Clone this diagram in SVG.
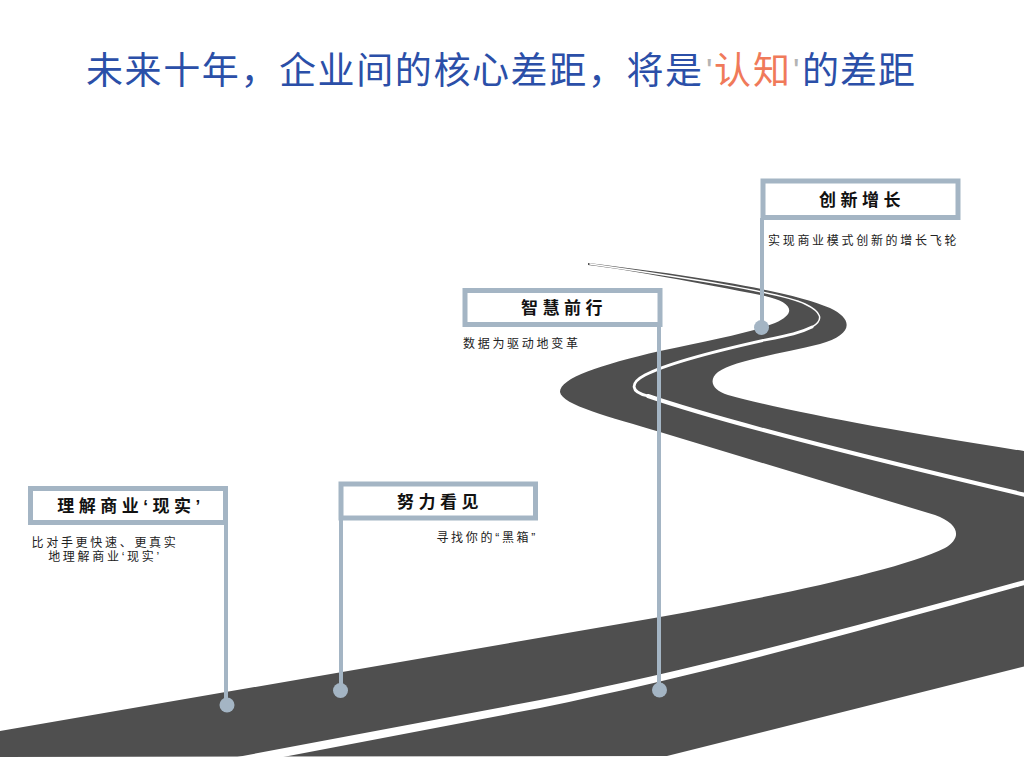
<svg xmlns="http://www.w3.org/2000/svg" width="1024" height="764" viewBox="0 0 1024 764">
<style>
.t{font-family:"Noto Sans CJK SC","Noto Sans CJK JP",sans-serif;font-size:37px;fill:#2b4fa8}
.q{font-family:"Liberation Sans","Noto Sans CJK SC",sans-serif;font-size:34px;fill:#b4b4b4}
.hl{fill:#f07a5a}
.box{fill:#ffffff;stroke:#a4b5c4;stroke-width:5}
.stem{stroke:#a4b5c4;stroke-width:4;fill:none}
.dot{fill:#a4b5c4}
.h{font-family:"Liberation Sans","Noto Sans CJK SC",sans-serif;font-size:17px;font-weight:bold;fill:#111;letter-spacing:4.5px;text-anchor:middle}
.s{font-family:"Liberation Sans","Noto Sans CJK SC",sans-serif;font-size:12px;fill:#222;letter-spacing:2.7px}
.road{fill:#4f4f4f}
.wl{fill:none;stroke:#ffffff;stroke-linecap:round;stroke-linejoin:round}
</style>
<rect width="1024" height="764" fill="#ffffff"/>

<g id="title">
<text class="t" x="86" y="84" textLength="616" lengthAdjust="spacing">未来十年，企业间的核心差距，将是</text>
<text class="q" x="706" y="82">'</text>
<text class="t hl" x="714" y="84" textLength="76" lengthAdjust="spacing">认知</text>
<text class="q" x="793" y="82">'</text>
<text class="t" x="802" y="84" textLength="113" lengthAdjust="spacing">的差距</text>
</g>

<g id="road">
<path class="road" d="M 588 263 C 680 274, 790 290, 830 308 C 855 320, 852 335, 820 344 C 780 354, 735 360, 718 372 C 708 380, 712 390, 728 395 C 790 412, 900 432, 1030 452 L 1030 665 L 667 756 L 0 757 L 0 731 L 660 617 C 780 595, 900 570, 945 548 C 962 538, 960 524, 935 515 L 660 432 C 610 417, 562 405, 560 392 C 560 378, 600 365, 660 351 C 710 340, 750 333, 775 323 C 798 313, 792 302, 765 296 C 700 283, 630 270, 588 265 Z"/>
<path class="wl" stroke-width="1.5" d="M 590 264 C 680 277, 780 292, 805 304 C 822 312, 824 320, 812 327"/>
<path class="wl" stroke-width="2.8" d="M 812 327 C 800 333, 790 335, 765 340 C 720 350, 670 362, 645 375 C 630 383, 630 392, 648 396"/>
<path class="wl" stroke-width="4" d="M 648 396 C 700 414, 800 442, 1030 496"/>
<path fill="#ffffff" d="M 1030 578.5 C 860 625, 700 668.5, 540 700 L 232 758 L 278 758 L 540 708 C 700 675.5, 860 631, 1030 583.5 Z"/>
</g>

<g id="connectors">
<line class="stem" x1="226" y1="522" x2="226" y2="705"/>
<circle class="dot" cx="227" cy="705" r="7.5"/>
<line class="stem" x1="341" y1="518" x2="341" y2="690"/>
<circle class="dot" cx="340.5" cy="690.5" r="7.5"/>
<line class="stem" x1="659" y1="324" x2="659" y2="690"/>
<circle class="dot" cx="659.5" cy="690" r="7.5"/>
<line class="stem" x1="762" y1="218" x2="762" y2="327"/>
<circle class="dot" cx="761.5" cy="327.5" r="7.5"/>
</g>

<g id="node1">
<rect class="box" x="30.5" y="488.5" width="195" height="34"/>
<text class="h" x="131" y="512">理解商业‘现实’</text>
<text class="s" x="105" y="547" text-anchor="middle">比对手更快速、更真实</text>
<text class="s" x="105" y="561" text-anchor="middle">地理解商业‘现实’</text>
</g>

<g id="node2">
<rect class="box" x="341" y="484" width="194.5" height="34"/>
<text class="h" x="440" y="508">努力看见</text>
<text class="s" x="538" y="542" text-anchor="end">寻找你的“黑箱”</text>
</g>

<g id="node3">
<rect class="box" x="465" y="290.5" width="195" height="34"/>
<text class="h" x="564" y="314">智慧前行</text>
<text class="s" x="463" y="348">数据为驱动地变革</text>
</g>

<g id="node4">
<rect class="box" x="763" y="181" width="195" height="36.5"/>
<text class="h" x="862" y="206">创新增长</text>
<text class="s" x="768" y="245">实现商业模式创新的增长飞轮</text>
</g>
</svg>
